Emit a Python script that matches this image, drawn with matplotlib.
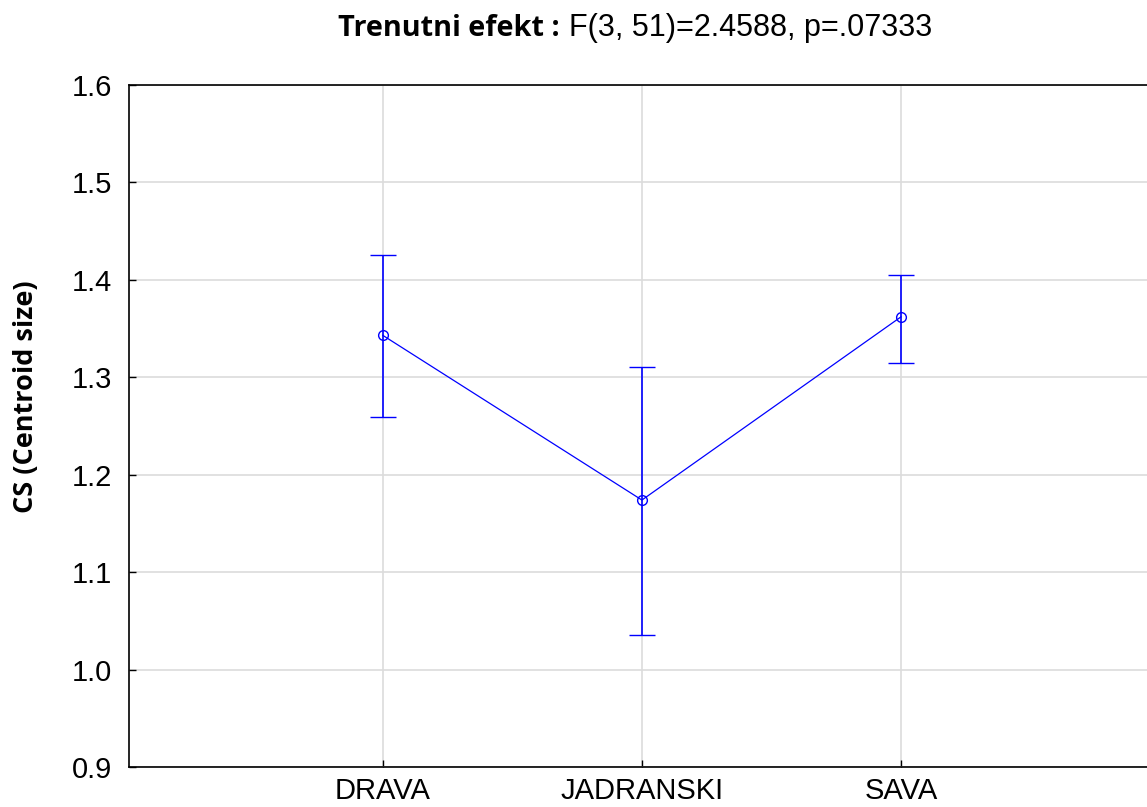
import matplotlib.pyplot as plt

# Podaci (procjena s grafa)
groups = ['DRAVA', 'JADRANSKI', 'SAVA']
means = [1.343, 1.174, 1.362]
upper = [1.426, 1.311, 1.405]
lower = [1.259, 1.035, 1.315]
yticks = [0.9, 1.0, 1.1, 1.2, 1.3, 1.4, 1.5, 1.6]

x = [1, 2, 3]
err = [[m - l for m, l in zip(means, lower)],
       [u - m for u, m in zip(upper, means)]]

fig = plt.figure(figsize=(11.47, 8.07), dpi=100)
ax = fig.add_axes([129 / 1147, 40 / 807, 1031 / 1147, 682 / 807])

ax.errorbar(x, means, yerr=err, color='#0000ff', lw=0.9, elinewidth=1.2,
            capsize=9.5, capthick=1.2, marker='o', markersize=7,
            markerfacecolor='none', markeredgecolor='#0000ff', markeredgewidth=1.0)

ax.set_xlim(0.02, 4)
ax.set_ylim(0.9, 1.6)
ax.set_xticks(x)
ax.set_xticklabels(groups)
ax.set_yticks(yticks)
ax.set_yticklabels([f'{v:.1f}' for v in yticks])
ax.grid(True, color='#dcdcdc', lw=1.2)
ax.set_axisbelow(True)

ax.tick_params(direction='in', length=5, width=1,
               colors='black', labelfontfamily='Liberation Sans')
ax.tick_params(axis='y', pad=12, labelsize=21)
ax.tick_params(axis='x', pad=7, labelsize=21)
for s in ax.spines.values():
    s.set_linewidth(1.2)

fig.text(26 / 1147, 1 - 397 / 807, 'CS (Centroid size)', rotation=90,
         ha='center', va='center', fontsize=19.5, fontweight='bold',
         family='Open Sans')

# Naslov: podebljani i obicni dio
fig.text(560 / 1147, 1 - 28 / 807, 'Trenutni efekt :', ha='right', va='center',
         fontsize=20.8, fontweight='bold', family='Open Sans')
fig.text(569 / 1147, 1 - 28 / 807, 'F(3, 51)=2.4588, p=.07333', ha='left',
         va='center', fontsize=22, family='Liberation Sans')

fig.savefig('out.png', dpi=100)
